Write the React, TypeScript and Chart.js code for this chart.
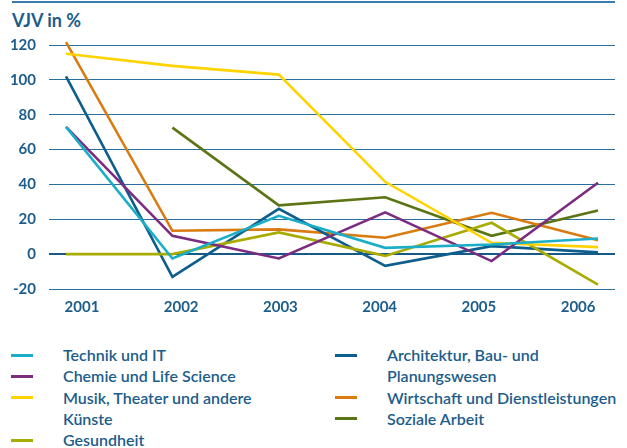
import React, { useEffect, useRef } from "react";
import { Chart, registerables } from "chart.js";

Chart.register(...registerables);

const years = [2001, 2002, 2003, 2004, 2005, 2006];
const yTicks = [-20, 0, 20, 40, 60, 80, 100, 120];

const technik = [73, -2.5, 22, 3.6, 5.5, 9];
const chemie = [73, 10.5, -2.5, 24, -4, 41];
const musik = [115, 108, 103, 41.5, 6.5, 4];
const gesundheit = [0, 0, 12.5, -1, 18, -17.5];
const architektur = [102, -13, 26, -6.7, 4.6, 1];
const wirtschaft = [121.7, 13.4, 14.2, 9.4, 23.7, 8];
const soziale = [null, 72.6, 28, 32.6, 10.5, 25];

const seriesNames = [
  ["Technik und IT"],
  ["Chemie und Life Science"],
  ["Musik, Theater und andere", "Künste"],
  ["Gesundheit"],
  ["Architektur, Bau- und", "Planungswesen"],
  ["Wirtschaft und Dienstleistungen"],
  ["Soziale Arbeit"],
];
const seriesValues = [technik, chemie, musik, gesundheit, architektur, wirtschaft, soziale];
const seriesColors = ["#1aaec9", "#7b2b80", "#ffd300", "#a9ac00", "#0d5e8c", "#d97b10", "#5b7414"];

const TEXT = "#1c5d8c";
const GRID = "#2a6e9e";
const FONT = "Lato, 'Noto Sans', sans-serif";

export default function App() {
  const ref = useRef<HTMLCanvasElement | null>(null);

  useEffect(() => {
    if (!ref.current) return;
    const chart = new Chart(ref.current, {
      type: "line",
      data: {
        datasets: seriesValues.map((vals, i) => ({
          label: seriesNames[i].join(" "),
          data: years.map((yr, j) => ({ x: yr, y: vals[j] })),
          borderColor: seriesColors[i],
          backgroundColor: seriesColors[i],
          borderWidth: 2.6,
          pointRadius: 0,
          tension: 0,
          spanGaps: false,
          clip: false,
          xAxisID: "x",
          yAxisID: "y",
        })),
      },
      options: {
        animation: false,
        responsive: false,
        events: [],
        layout: { padding: { top: 45, right: 12, left: 0, bottom: 0 } },
        plugins: { legend: { display: false }, tooltip: { enabled: false } },
        scales: {
          x: {
            type: "linear",
            display: false,
            min: 2000.84,
            max: 2006.16,
          },
          x2: {
            type: "linear",
            position: "bottom",
            min: 2000.668,
            max: 2006.372,
            grid: { display: false, drawTicks: false },
            border: { display: false },
            afterBuildTicks: (s: any) => {
              s.ticks = years.map((v) => ({ value: v }));
            },
            afterFit: (s: any) => {
              s.height = 36;
            },
            ticks: {
              padding: 9,
              color: TEXT,
              font: { family: FONT, size: 15, weight: "bold" },
              callback: (v: any) => String(v),
              maxRotation: 0,
              autoSkip: false,
            },
          },
          y: {
            type: "linear",
            min: -20,
            max: 120,
            afterBuildTicks: (s: any) => {
              s.ticks = yTicks.map((v) => ({ value: v }));
            },
            afterFit: (s: any) => {
              s.width = 49;
            },
            grid: {
              drawTicks: false,
              color: (c: any) => (c.tick && c.tick.value === 0 ? "#175a88" : GRID),
              lineWidth: (c: any) => (c.tick && c.tick.value === 0 ? 2 : 1),
            },
            border: { display: false },
            ticks: {
              padding: 13,
              color: TEXT,
              font: { family: FONT, size: 15, weight: "bold" },
            },
          },
        },
      },
    });
    return () => chart.destroy();
  }, []);

  const col = (start: number, end: number, left: number) => (
    <div style={{ position: "absolute", left, top: 344, width: 300 }}>
      {seriesNames.slice(start, end).map((lines, k) => {
        const i = start + k;
        return (
          <div key={i} style={{ position: "relative", paddingLeft: 52 }}>
            <div
              style={{
                position: "absolute",
                left: 0,
                top: 9.5,
                width: 22,
                height: 3,
                background: seriesColors[i],
              }}
            />
            {lines.map((t, n) => (
              <div key={n} style={{ whiteSpace: "nowrap", lineHeight: "21.3px", height: 21.3 }}>
                {t}
              </div>
            ))}
          </div>
        );
      })}
    </div>
  );

  return (
    <div
      style={{
        position: "absolute",
        left: 0,
        top: 0,
        width: 627,
        height: 448,
        background: "#ffffff",
        fontFamily: FONT,
        color: TEXT,
        fontSize: 16,
        fontWeight: 600,
        overflow: "hidden",
      }}
    >
      <div style={{ position: "absolute", left: 12, top: 1, width: 603, height: 2, background: "#3a7cb0" }} />
      <div style={{ position: "absolute", left: 12, top: 9, fontSize: 18, fontWeight: "bold", lineHeight: "22px" }}>
        VJV in %
      </div>
      <canvas ref={ref} width={627} height={325} style={{ position: "absolute", left: 0, top: 0 }} />
      {col(0, 4, 11)}
      {col(4, 7, 335)}
    </div>
  );
}
